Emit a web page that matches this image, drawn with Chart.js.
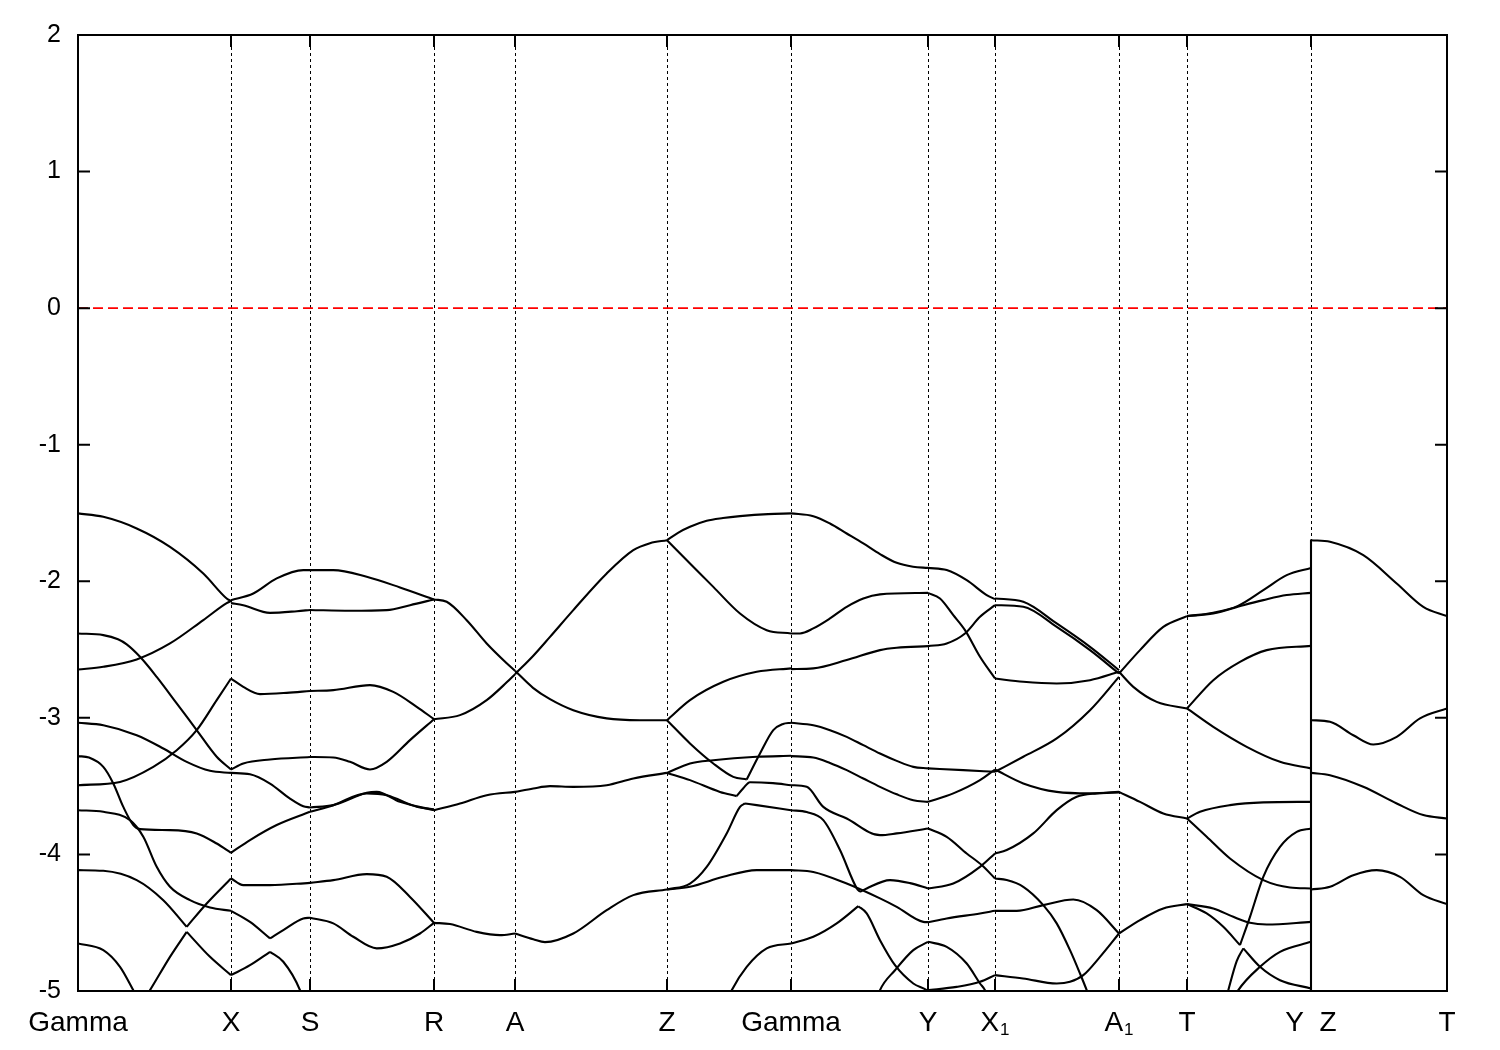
<!DOCTYPE html>
<html><head><meta charset="utf-8">
<script src="https://cdn.jsdelivr.net/npm/chart.js@4.4.1/dist/chart.umd.min.js"></script>
<style>html,body{margin:0;padding:0;background:#fff;}#wrap{width:1500px;height:1050px;}</style>
</head><body><div id="wrap"><canvas id="c" width="1500" height="1050"></canvas></div>
<script>
// k-path positions of high-symmetry points and their labels ("_" = subscript)
const kTicks  = [0, 153, 232, 356, 437, 589, 713, 850, 917, 1041, 1109, 1233, 1369];
const kLabels = ["Gamma","X","S","R","A","Z","Gamma","Y","X_1","A_1","T","Y  Z","T"];
const eTicks  = [-5,-4,-3,-2,-1,0,1,2];
const fermiLevel = 0;

// Bands, segment by segment: each band is a list of [k, E(eV)]
const segGX = [
 [[0,-1.503],[25.3,-1.528],[58.7,-1.613],[92,-1.748],[125.3,-1.943],[148.7,-2.126],[153,-2.145]],
 [[0,-2.646],[25.3,-2.626],[58.7,-2.572],[92,-2.455],[125.3,-2.284],[148.7,-2.160],[153,-2.145]],
 [[0,-3.493],[42,-3.469],[75.3,-3.359],[98.7,-3.237],[118.7,-3.090],[138.7,-2.870],[153,-2.712]],
 [[0,-2.382],[25.3,-2.394],[40,-2.425],[48.7,-2.462],[62,-2.553],[78.7,-2.700],[98.7,-2.894],[118.7,-3.090],[138.7,-3.285],[153,-3.378]],
 [[0,-3.036],[25.3,-3.054],[58.7,-3.127],[85.3,-3.224],[108.7,-3.322],[132,-3.388],[153,-3.403]],
 [[0,-3.280],[11,-3.291],[25.3,-3.359],[35.3,-3.480],[45.3,-3.652],[55.3,-3.785],[62,-3.815],[92,-3.822],[118.7,-3.846],[138.7,-3.920],[153,-3.988]],
 [[0,-3.676],[25.3,-3.688],[52,-3.749],[65.3,-3.871],[78.7,-4.091],[92,-4.237],[112,-4.335],[132,-4.388],[153,-4.413]],
 [[0,-4.115],[25.3,-4.120],[58.7,-4.188],[85.3,-4.335],[108.7,-4.530]],
 [[108.7,-4.530],[128.7,-4.359],[153,-4.176]],
 [[0,-4.652],[25.3,-4.701],[42,-4.823],[55.3,-4.994],[58,-5.03]],
 [[67,-5.05],[72,-4.994],[92,-4.750],[108.7,-4.567]],
 [[108.7,-4.567],[132,-4.750],[153,-4.884]]
];
const segXS = [
 [[153,-2.138],[175.3,-2.089],[198.7,-1.979],[225.3,-1.918],[232,-1.918]],
 [[153,-2.160],[165.3,-2.175],[192,-2.231],[219,-2.219],[232,-2.210]],
 [[153,-2.712],[165.3,-2.773],[182,-2.826],[208.7,-2.817],[232,-2.803]],
 [[153,-3.378],[165.3,-3.334],[192,-3.305],[232,-3.287]],
 [[153,-3.403],[172,-3.413],[192,-3.481],[212,-3.591],[225.3,-3.647],[232,-3.656]],
 [[153,-3.988],[172,-3.895],[198.7,-3.785],[232,-3.688]],
 [[153,-4.413],[172,-4.494],[192,-4.615]],
 [[192,-4.615],[205.3,-4.554],[225.3,-4.469],[232,-4.464]],
 [[153,-4.176],[165.3,-4.225],[192,-4.225],[232,-4.208]],
 [[153,-4.884],[172,-4.811],[192,-4.713]],
 [[192,-4.713],[205.3,-4.786],[222,-4.994],[224,-5.04]]
];
const segSR = [
 [[232,-1.918],[255.3,-1.918],[288.7,-1.967],[322,-2.045],[356,-2.133]],
 [[232,-2.210],[272,-2.216],[308.7,-2.211],[332,-2.175],[356,-2.133]],
 [[232,-2.803],[255.3,-2.797],[292,-2.760],[315.3,-2.810],[338.7,-2.919],[356,-3.010]],
 [[232,-3.287],[255.3,-3.290],[272,-3.322],[292,-3.378],[308.7,-3.322],[332,-3.163],[356,-3.010]],
 [[232,-3.656],[255.3,-3.639],[288.7,-3.549],[298.7,-3.542],[322,-3.615],[356,-3.676]],
 [[232,-3.688],[255.3,-3.639],[288.7,-3.553],[308.7,-3.566],[338.7,-3.651],[356,-3.670]],
 [[232,-4.208],[255.3,-4.188],[288.7,-4.144],[308.7,-4.164],[332,-4.311],[356,-4.501]],
 [[232,-4.464],[255.3,-4.505],[275.3,-4.603],[298.7,-4.688],[322,-4.652],[342,-4.579],[356,-4.501]]
];
const segRA = [
 [[356,-2.133],[368.7,-2.150],[388.7,-2.285],[408.7,-2.455],[428.7,-2.600],[437,-2.655]],
 [[356,-3.010],[382,-2.980],[408.7,-2.870],[428.7,-2.740],[437,-2.680]],
 [[356,-3.676],[382,-3.627],[408.7,-3.566],[437,-3.542]],
 [[356,-4.501],[372,-4.510],[398.7,-4.567],[422,-4.591],[437,-4.579]]
];
const segAZ = [
 [[437,-2.655],[455,-2.780],[472,-2.863],[495.3,-2.944],[528.7,-3.004],[562,-3.017],[589,-3.017]],
 [[437,-2.680],[455.3,-2.545],[472,-2.407],[495.3,-2.211],[528.7,-1.943],[555.3,-1.772],[572,-1.721],[589,-1.699]],
 [[437,-3.542],[455.3,-3.517],[472,-3.500],[495.3,-3.505],[528.7,-3.493],[555.3,-3.444],[589,-3.403]],
 [[437,-4.579],[455.3,-4.621],[467,-4.642],[495.3,-4.579],[528.7,-4.408],[555.3,-4.298],[589,-4.257]]
];
const segZG = [
 [[589,-1.699],[600,-1.645],[612,-1.601],[628.7,-1.557],[645,-1.537],[662,-1.523],[690,-1.508],[713,-1.503]],
 [[589,-1.699],[612,-1.869],[635.3,-2.041],[662,-2.236],[688.7,-2.358],[713,-2.382]],
 [[589,-3.017],[612,-2.870],[645.3,-2.736],[678.7,-2.663],[713,-2.638]],
 [[589,-3.017],[612,-3.187],[635.3,-3.334],[655.3,-3.432],[668.7,-3.451]],
 [[668.7,-3.451],[682,-3.261],[695.3,-3.090],[705,-3.045],[713,-3.036]],
 [[589,-3.403],[612,-3.334],[635.3,-3.310],[678.7,-3.285],[713,-3.278]],
 [[589,-3.403],[612,-3.456],[642,-3.542],[658.7,-3.573]],
 [[658.7,-3.573],[665.3,-3.515],[672,-3.471],[695,-3.478],[713,-3.493]],
 [[589,-4.257],[612,-4.213],[628.7,-4.091],[648.7,-3.846],[662,-3.652],[667,-3.627]],
 [[667,-3.627],[678.7,-3.639],[713,-3.676]],
 [[589,-4.257],[612,-4.237],[645.3,-4.164],[678.7,-4.115],[713,-4.115]],
 [[651,-5.04],[653.7,-4.994],[668.7,-4.823],[688.7,-4.688],[713,-4.652]]
];
const segGY = [
 [[713,-1.503],[735.3,-1.523],[752,-1.577],[768.7,-1.650],[785.3,-1.723],[802,-1.801],[818.7,-1.865],[835,-1.893],[850,-1.902]],
 [[713,-2.382],[722,-2.382],[735.3,-2.345],[752,-2.272],[768.7,-2.187],[785.3,-2.126],[802,-2.096],[850,-2.085]],
 [[713,-2.643],[735.3,-2.638],[768.7,-2.577],[802,-2.504],[818.7,-2.487],[850,-2.475]],
 [[713,-3.036],[735.3,-3.054],[752,-3.090],[768.7,-3.139],[785.3,-3.200],[802,-3.261],[818.7,-3.315],[835.3,-3.359],[850,-3.370]],
 [[713,-3.280],[735.3,-3.290],[752,-3.330],[768.7,-3.383],[785.3,-3.444],[802,-3.505],[818.7,-3.560],[835.3,-3.603],[850,-3.615]],
 [[713,-3.493],[728.7,-3.505],[745.3,-3.652],[768.7,-3.737],[802,-3.859],[818.7,-3.846],[850,-3.810]],
 [[713,-3.676],[728.7,-3.690],[745.3,-3.749],[762,-3.968],[778.7,-4.247],[782,-4.274]],
 [[782,-4.274],[788.7,-4.249],[812,-4.188],[832,-4.210],[850,-4.249]],
 [[713,-4.115],[735.3,-4.128],[768.7,-4.213],[802,-4.322],[818.7,-4.384],[845.3,-4.494],[850,-4.496]],
 [[713,-4.652],[735.3,-4.603],[758.7,-4.505],[780.3,-4.379]],
 [[780.3,-4.379],[788.7,-4.432],[802,-4.628],[817,-4.811],[835.3,-4.945],[848.7,-4.994],[852,-5.016]],
 [[800,-5.04],[802,-4.994],[817,-4.848],[835.3,-4.701],[850,-4.640]]
];
const segYX1 = [
 [[850,-1.902],[868.7,-1.918],[888.7,-1.992],[908.7,-2.101],[917,-2.131]],
 [[850,-2.085],[862,-2.126],[875.3,-2.248],[887,-2.358],[902,-2.553],[917,-2.712]],
 [[850,-2.475],[868.7,-2.455],[887,-2.382],[902,-2.260],[917,-2.175]],
 [[850,-3.370],[885.3,-3.383],[917,-3.395]],
 [[850,-3.615],[875.3,-3.553],[902,-3.456],[917,-3.378]],
 [[850,-3.810],[868.7,-3.871],[888.7,-3.993],[903.7,-4.078],[917,-4.176]],
 [[850,-4.249],[875.3,-4.213],[902,-4.091],[917,-3.993]],
 [[850,-4.496],[868.7,-4.469],[902,-4.432],[917,-4.413]],
 [[850,-4.640],[868.7,-4.677],[888.7,-4.799],[902,-4.945],[907,-4.994],[909,-5.03]],
 [[849,-4.994],[878.7,-4.970],[902,-4.933],[917,-4.884]]
];
const segX1A1 = [
 [[917,-2.126],[945.3,-2.150],[978.7,-2.309],[1012,-2.480],[1041,-2.651]],
 [[917,-2.175],[945.3,-2.187],[978.7,-2.334],[1012,-2.504],[1041,-2.675]],
 [[917,-2.712],[945.3,-2.736],[978.7,-2.748],[1012,-2.724],[1041,-2.663]],
 [[917,-3.395],[945.3,-3.285],[978.7,-3.151],[1012,-2.944],[1041,-2.700]],
 [[917,-3.378],[945.3,-3.480],[978.7,-3.542],[1012,-3.553],[1041,-3.542]],
 [[917,-3.993],[928.7,-3.968],[955.3,-3.846],[978.7,-3.676],[998.7,-3.578],[1018.7,-3.553],[1041,-3.546]],
 [[917,-4.176],[928.7,-4.188],[945.3,-4.237],[965.3,-4.371],[978.7,-4.505],[992,-4.701],[1002,-4.872],[1008.7,-4.994],[1011,-5.04]],
 [[917,-4.413],[938.7,-4.413],[965.3,-4.371],[995.3,-4.330],[1018.7,-4.408],[1041,-4.579]],
 [[917,-4.884],[945,-4.908],[978.7,-4.945],[992,-4.933],[1005.3,-4.884],[1022,-4.750],[1041,-4.579]]
];
const segA1T = [
 [[1041,-2.675],[1062,-2.504],[1085.3,-2.334],[1109,-2.255]],
 [[1041,-2.663],[1055.3,-2.773],[1078.7,-2.883],[1109,-2.931]],
 [[1041,-3.542],[1062,-3.615],[1085.3,-3.700],[1109,-3.737]],
 [[1041,-4.579],[1062,-4.481],[1085.3,-4.396],[1109,-4.364]]
];
const segTY = [
 [[1109,-2.255],[1135.3,-2.236],[1165.3,-2.175],[1185.3,-2.138],[1208.7,-2.101],[1233,-2.085]],
 [[1109,-2.255],[1135.3,-2.230],[1160,-2.180],[1185.3,-2.065],[1208.7,-1.955],[1233,-1.902]],
 [[1109,-2.931],[1135.3,-2.724],[1162,-2.590],[1188.7,-2.504],[1233,-2.473]],
 [[1109,-2.931],[1135.3,-3.066],[1168.7,-3.212],[1202,-3.322],[1233,-3.370]],
 [[1109,-3.737],[1122,-3.688],[1152,-3.639],[1185.3,-3.619],[1233,-3.615]],
 [[1109,-3.737],[1128.7,-3.871],[1152,-4.030],[1185.3,-4.188],[1212,-4.242],[1233,-4.249]],
 [[1109,-4.364],[1135.3,-4.396],[1155.3,-4.457],[1172,-4.501],[1188.7,-4.513],[1233,-4.494]],
 [[1109,-4.364],[1128.7,-4.432],[1145.3,-4.530],[1162,-4.664]],
 [[1162,-4.664],[1172,-4.457],[1185.3,-4.164],[1202,-3.945],[1218.7,-3.835],[1233,-3.810]],
 [[1149,-5.03],[1150.3,-4.994],[1158.7,-4.781],[1165.3,-4.688]],
 [[1165.3,-4.688],[1182,-4.823],[1202,-4.921],[1233,-4.981]],
 [[1157,-5.04],[1160.3,-4.994],[1182,-4.823],[1202,-4.713],[1233,-4.640]]
];
const segZT = [
 [[1233,-1.699],[1252,-1.711],[1285.3,-1.809],[1318.7,-2.016],[1345.3,-2.187],[1369,-2.255]],
 [[1233,-3.017],[1252,-3.029],[1275.3,-3.127],[1295.3,-3.195],[1318.7,-3.139],[1342,-3.004],[1369,-2.931]],
 [[1233,-3.403],[1252,-3.420],[1285.3,-3.505],[1318.7,-3.627],[1345.3,-3.712],[1369,-3.737]],
 [[1233,-4.257],[1252,-4.237],[1275.3,-4.152],[1298.7,-4.115],[1322,-4.164],[1345.3,-4.298],[1369,-4.364]]
];
// band connection drawn at the Y|Z discontinuity
const jumpYZ = [[1233,-1.699],[1233,-5.0]];

const allSegments = [segGX, segXS, segSR, segRA, segAZ, segZG, segGY, segYX1, segX1A1, segA1T, segTY, segZT];

const FONT = '"Liberation Sans", Arial, Helvetica, sans-serif';
Chart.defaults.font.family = FONT;

const datasets = [];
datasets.push({
  data: [{x: kTicks[0], y: fermiLevel}, {x: kTicks[kTicks.length-1], y: fermiLevel}],
  borderColor: '#ff0000', borderWidth: 1.6, borderDash: [10, 5],
  pointRadius: 0, fill: false, tension: 0, clip: 0
});
allSegments.forEach(seg => seg.forEach(band => {
  datasets.push({
    data: band.map(p => ({x: p[0], y: p[1]})),
    borderColor: '#000', borderWidth: 2.1, pointRadius: 0, fill: false,
    cubicInterpolationMode: 'monotone', clip: 0
  });
}));
datasets.push({
  data: jumpYZ.map(p => ({x: p[0], y: p[1]})),
  borderColor: '#000', borderWidth: 2.1, pointRadius: 0, fill: false, tension: 0, clip: 0
});

const framePlugin = {
  id: 'frame',
  beforeDatasetsDraw(chart) {
    const {ctx, chartArea: a, scales: {x}} = chart;
    ctx.save();
    ctx.strokeStyle = '#000'; ctx.lineWidth = 1; ctx.setLineDash([3, 3]);
    kTicks.slice(1, -1).forEach(k => {
      const px = Math.round(x.getPixelForValue(k)) + 0.5;
      ctx.beginPath(); ctx.moveTo(px, a.top); ctx.lineTo(px, a.bottom); ctx.stroke();
    });
    ctx.restore();
  },
  afterDatasetsDraw(chart) {
    const {ctx, chartArea: a, scales: {x, y}} = chart;
    ctx.save();
    ctx.strokeStyle = '#000'; ctx.lineWidth = 2; ctx.setLineDash([]);
    const L = 12;
    eTicks.forEach(v => {
      const py = y.getPixelForValue(v);
      ctx.beginPath(); ctx.moveTo(a.left, py); ctx.lineTo(a.left + L, py);
      ctx.moveTo(a.right, py); ctx.lineTo(a.right - L, py); ctx.stroke();
    });
    kTicks.forEach(k => {
      const px = x.getPixelForValue(k);
      ctx.beginPath(); ctx.moveTo(px, a.bottom); ctx.lineTo(px, a.bottom - L);
      ctx.moveTo(px, a.top); ctx.lineTo(px, a.top + L); ctx.stroke();
    });
    ctx.strokeRect(a.left, a.top, a.right - a.left, a.bottom - a.top);
    // x labels with subscripts
    ctx.fillStyle = '#000'; ctx.textBaseline = 'alphabetic'; ctx.textAlign = 'left';
    const mainFont = '28px ' + FONT, subFont = '17px ' + FONT;
    kTicks.forEach((k, i) => {
      const parts = kLabels[i].split('_');
      ctx.font = mainFont; const w1 = ctx.measureText(parts[0]).width;
      let w2 = 0;
      if (parts[1]) { ctx.font = subFont; w2 = ctx.measureText(parts[1]).width + 1; }
      const px = x.getPixelForValue(k);
      const x0 = px - (w1 + w2) / 2;
      ctx.font = mainFont; ctx.fillText(parts[0], x0, a.bottom + 40);
      if (parts[1]) { ctx.font = subFont; ctx.fillText(parts[1], x0 + w1 + 1, a.bottom + 44); }
    });
    ctx.restore();
  }
};

new Chart(document.getElementById('c'), {
  type: 'line',
  data: {datasets},
  options: {
    responsive: false, animation: false, devicePixelRatio: 1,
    layout: {padding: {left: 0, top: 35, right: 53, bottom: 0}},
    plugins: {legend: {display: false}, tooltip: {enabled: false}},
    elements: {line: {borderCapStyle: 'butt', borderJoinStyle: 'round'}},
    scales: {
      x: {
        type: 'linear', min: kTicks[0], max: kTicks[kTicks.length-1],
        grid: {display: false, drawTicks: false}, border: {display: false},
        ticks: {display: false},
        afterFit: s => { s.height = 59; }
      },
      y: {
        type: 'linear', min: -5, max: 2,
        grid: {display: false, drawTicks: false, tickLength: 0}, border: {display: false},
        ticks: {stepSize: 1, color: '#000', font: {size: 25}, padding: 17},
        afterFit: s => { s.width = 78; }
      }
    }
  },
  plugins: [framePlugin]
});
</script></body></html>
